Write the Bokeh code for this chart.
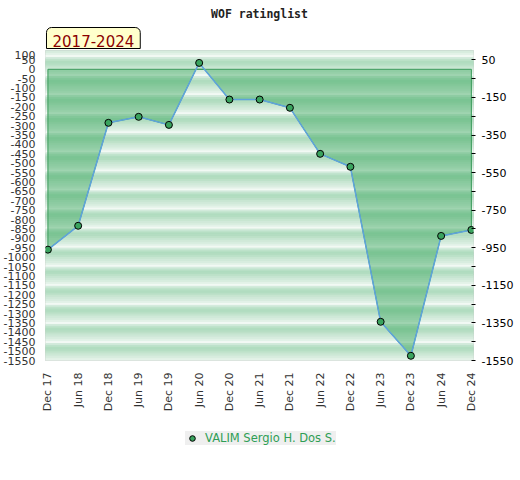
import numpy as np
from bokeh.plotting import figure
from bokeh.layouts import column
from bokeh.models import Range1d, FixedTicker, LinearAxis, Label, Legend, LegendItem
from bokeh.embed import file_html
from bokeh.resources import INLINE

# ---- data ----
periods = ["Dec 17", "Jun 18", "Dec 18", "Jun 19", "Dec 19", "Jun 20", "Dec 20",
           "Jun 21", "Dec 21", "Jun 22", "Dec 22", "Jun 23", "Dec 23", "Jun 24", "Dec 24"]
ratings = [-960, -833, -285, -253, -296, 34, -161, -161, -205, -450, -519,
           -1344, -1525, -887, -855]
left_ticks = list(range(100, -1551, -50))
left_labels = {t: str(t) for t in left_ticks}
right_ticks = list(range(50, -1551, -100))
right_labels = {t: (str(t) if (50 - t) % 200 == 0 else "") for t in right_ticks}
player = "VALIM Sergio H. Dos S."
title_text = "WOF ratinglist"
tab_text = "2017-2024"
Y_MIN, Y_MAX = -1550, 100

# ---- style ----
W = 516
FL, FR = 45, 474          # frame left / right (pixels)
BAND_TOP = 73
BAND_STEP = 101.5
band_colors = ["#f2f9f4", "#d2eadb", "#bde2ca", "#b0dcbf", "#b3ddc1",
               "#bde1c9", "#c8e6d2", "#d0e9d9", "#d8eddf", "#e3f2e8"]

# ---------- header (title + tab) ----------
head = figure(width=W, height=50, x_range=Range1d(FL, FR), y_range=Range1d(0, 50),
              output_backend="svg", toolbar_location=None, min_border=0,
              min_border_left=FL, min_border_right=W - FR,
              x_axis_type=None, y_axis_type=None, outline_line_color=None,
              background_fill_color="white", border_fill_color="white")
head.xgrid.visible = False
head.ygrid.visible = False
head.title.visible = False
head.add_layout(Label(x=259.5, y=37, text=title_text, text_font="DejaVu Sans Mono",
                      text_font_style="bold", text_font_size="11.5px", text_color="#222222",
                      text_align="center", text_baseline="middle"))
head.add_layout(Label(x=FL + 1, y=2, text=tab_text,
                      text_font="DejaVu Sans", text_font_size="15px", text_color="#8b0000",
                      text_align="left", text_baseline="bottom",
                      background_fill_color="#ffffcc", border_line_color="black",
                      border_line_width=1,
                      padding=dict(left=6, right=6, top=7, bottom=2),
                      border_radius=dict(top_left=5, top_right=5,
                                         bottom_right=0, bottom_left=0)))

# ---------- main chart ----------
x = list(range(len(periods)))
xr = Range1d(-0.08, len(periods) - 1 + 0.07)

p = figure(width=W, height=365, x_range=xr, y_range=Range1d(Y_MIN, Y_MAX),
           output_backend="svg", toolbar_location=None,
           min_border_left=FL, min_border_right=W - FR, min_border_top=0, min_border_bottom=55,
           background_fill_color="white", border_fill_color="white",
           outline_line_color="#cccccc")
p.title.visible = False

tops, bottoms, cols = [], [], []
t = BAND_TOP + BAND_STEP
n_sub = len(band_colors)
while t > Y_MIN:
    for j, c in enumerate(band_colors):
        top = t - j * BAND_STEP / n_sub
        tops.append(top)
        bottoms.append(top - BAND_STEP / n_sub)
        cols.append(c)
    t -= BAND_STEP
p.quad(left=xr.start, right=xr.end, top=tops, bottom=bottoms,
       fill_color=cols, line_color=cols, line_width=1)

fx, fy = [], []
for i in range(len(x)):
    if i > 0 and (ratings[i - 1] < 0) != (ratings[i] < 0):
        tt = ratings[i - 1] / (ratings[i - 1] - ratings[i])
        fx.append(x[i - 1] + tt)
        fy.append(0)
    fx.append(x[i])
    fy.append(min(ratings[i], 0))
patch_x = [x[0]] + fx + [x[-1]]
patch_y = [0] + fy + [0]
p.patch(patch_x, patch_y, fill_color="#39a65d", fill_alpha=0.45,
        line_color="#3a9a5a", line_width=1)

p.line(x, ratings, line_color="#5fa3dc", line_width=1.5)
p.scatter(x, ratings, size=7, fill_color="#3aa35e", line_color="black", line_width=1)

p.xgrid.visible = False
p.ygrid.visible = False

ya = p.yaxis[0]
ya.ticker = FixedTicker(ticks=left_ticks)
ya.major_label_overrides = left_labels
ya.axis_line_color = None
ya.major_tick_out = 0
ya.major_tick_in = 0
ya.minor_tick_out = 0
ya.minor_tick_in = 0
ya.major_label_standoff = 10
ya.major_label_text_font = "DejaVu Sans"
ya.major_label_text_font_size = "11px"
ya.major_label_text_color = "#333333"

ra = LinearAxis(ticker=FixedTicker(ticks=right_ticks), major_label_overrides=right_labels)
ra.axis_line_color = None
ra.major_tick_out = 2
ra.major_tick_in = 2
ra.major_tick_line_color = "black"
ra.minor_tick_out = 0
ra.minor_tick_in = 0
ra.major_label_standoff = 6
ra.major_label_text_font = "DejaVu Sans"
ra.major_label_text_font_size = "11px"
ra.major_label_text_color = "black"
p.add_layout(ra, "right")

xa = p.xaxis[0]
xa.ticker = FixedTicker(ticks=x)
xa.major_label_overrides = {i: lab for i, lab in enumerate(periods)}
xa.major_label_orientation = np.pi / 2
xa.axis_line_color = None
xa.major_tick_out = 0
xa.major_tick_in = 0
xa.minor_tick_out = 0
xa.minor_tick_in = 0
xa.major_label_standoff = 12
xa.major_label_text_font = "DejaVu Sans"
xa.major_label_text_font_size = "11px"
xa.major_label_text_color = "#333333"

# ---------- legend strip ----------
foot = figure(width=W, height=60, x_range=xr, y_range=Range1d(1000, 2000),
              output_backend="svg", toolbar_location=None, min_border=0,
              min_border_left=FL, min_border_right=W - FR,
              x_axis_type=None, y_axis_type=None, outline_line_color=None,
              background_fill_color="white", border_fill_color="white")
foot.xgrid.visible = False
foot.ygrid.visible = False
foot.title.visible = False
# same series, drawn outside this strip's visible range: only its legend key shows
key = foot.scatter(x, ratings, size=7, fill_color="#3aa35e", line_color="black", line_width=1)
legend = Legend(items=[LegendItem(label=player, renderers=[key])],
                location=(185 - FL, 30), orientation="horizontal",
                background_fill_color="#efefef", background_fill_alpha=1,
                border_line_color=None,
                label_text_color="#2e9e55", label_text_font="DejaVu Sans",
                label_text_font_size="11.5px",
                glyph_width=14, glyph_height=14, label_height=14,
                label_standoff=6, padding=5, margin=0, spacing=0)
foot.add_layout(legend)

open("out.html", "w").write(file_html(column(head, p, foot), INLINE))
